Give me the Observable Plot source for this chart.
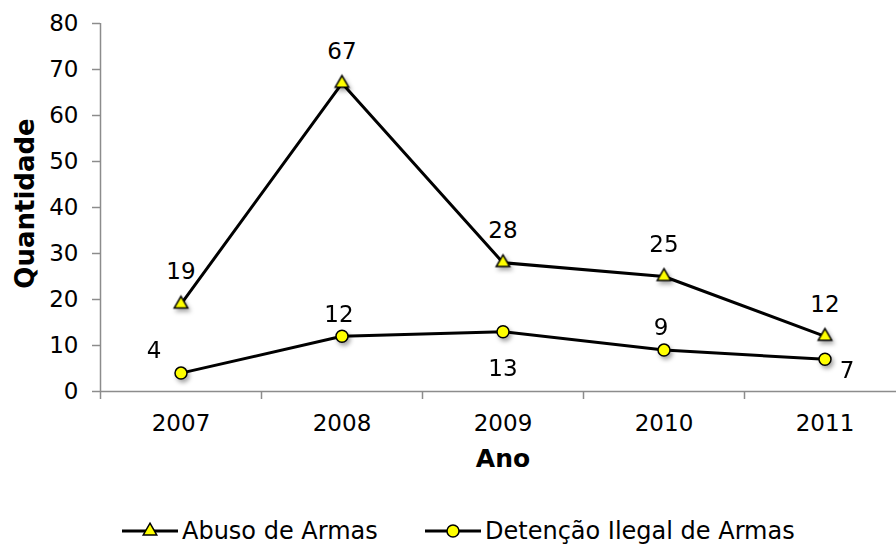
<!DOCTYPE html>
<html>
<head>
<meta charset="utf-8">
<script src="https://cdn.jsdelivr.net/npm/d3@7"></script>
<script src="https://cdn.jsdelivr.net/npm/@observablehq/plot@0.6"></script>
<style>
  html, body { margin: 0; padding: 0; background: #fff; overflow: hidden; }
  body { font-family: "DejaVu Sans", sans-serif; color: #000; }
  #wrap { width: 896px; height: 546px; position: relative; }
  #legend { position: relative; width: 896px; height: 26px; font-size: 24px; line-height: 26px; }
  #legend .item { position: absolute; top: 0; height: 26px; display: flex; align-items: center; white-space: nowrap; }
  #legend svg { display: block; margin-right: 4px; }
</style>
</head>
<body>
<div id="wrap">
  <div id="chart"></div>
  <div id="legend"></div>
</div>
<script>
// ---- data ----
const years = [2007, 2008, 2009, 2010, 2011];
const abuso = [19, 67, 28, 25, 12];
const detencao = [4, 12, 13, 9, 7];
const yTicks = [0, 10, 20, 30, 40, 50, 60, 70, 80];
const seriesNames = ["Abuso de Armas", "Detenção Ilegal de Armas"];
const yTitle = "Quantidade";
const xTitle = "Ano";
// where each value label sits relative to its point
const abusoLabelPos = ["above", "above", "above", "above", "above"];
const detencaoLabelPos = ["upperLeft", "above", "below", "above", "lowerRight"];

// ---- build tables ----
const abusoRows = years.map((year, i) => ({year, value: abuso[i], pos: abusoLabelPos[i]}));
const detRows = years.map((year, i) => ({year, value: detencao[i], pos: detencaoLabelPos[i]}));

const offsetsAbuso = {above: [0, -32]};
const offsetsDet = {above: [-3, -22], below: [0, 37], upperLeft: [-27, -22], lowerRight: [22, 11]};

function labelMarks(rows, offsets) {
  return Object.keys(offsets).map(p => Plot.text(rows.filter(d => d.pos === p), {
    x: "year", y: "value", text: d => String(d.value),
    dx: offsets[p][0], dy: offsets[p][1], fill: "#000", fontSize: 23
  }));
}

const x0 = years[0] - 0.5, x1 = years[years.length - 1] + 0.5;
const boundaries = d3.range(x0, x1 + 0.01, 1);
const axisGray = "#8c8c8c";

const plot = Plot.plot({
  width: 896,
  height: 518,
  marginTop: 23,
  marginLeft: 100,
  marginRight: -9,
  marginBottom: 127,
  x: {domain: [x0, x1]},
  y: {domain: [0, 80]},
  style: {fontFamily: "DejaVu Sans, sans-serif", fontSize: "23px", color: "#000", background: "#fff"},
  marks: [
    Plot.ruleX([x0], {stroke: axisGray, strokeWidth: 1.5}),
    Plot.ruleY([0], {stroke: axisGray, strokeWidth: 1.5}),
    Plot.axisY({ticks: yTicks, tickSize: 8, tickPadding: 14, stroke: axisGray, strokeWidth: 1.5, label: null, fill: "#000"}),
    Plot.axisX({ticks: boundaries, tickSize: 8, tickFormat: () => "", stroke: axisGray, strokeWidth: 1.5, label: null}),
    Plot.axisX({ticks: years, tickSize: 0, tickPadding: 23, tickFormat: d => String(d), label: null, fill: "#000"}),
    Plot.text([yTitle], {frameAnchor: "left", textAnchor: "middle", rotate: -90, dx: -75, dy: -4, fontWeight: "bold", fontSize: 26, fill: "#000"}),
    Plot.text([xTitle], {frameAnchor: "bottom", textAnchor: "middle", dy: 75, fontWeight: "bold", fontSize: 25, fill: "#000"}),
    Plot.line(abusoRows, {x: "year", y: "value", stroke: "#000", strokeWidth: 3}),
    Plot.line(detRows, {x: "year", y: "value", stroke: "#000", strokeWidth: 3}),
    Plot.dot(abusoRows, {x: "year", y: "value", symbol: "triangle", r: 5, fill: "#ffff00", stroke: "#000", strokeWidth: 1.5}),
    Plot.dot(detRows, {x: "year", y: "value", symbol: "circle", r: 6, fill: "#ffff00", stroke: "#000", strokeWidth: 1.5}),
    ...labelMarks(abusoRows, offsetsAbuso),
    ...labelMarks(detRows, offsetsDet)
  ]
});
document.getElementById("chart").appendChild(plot);
d3.select(plot).selectAll('g[aria-label="dot"]').style("filter", "drop-shadow(2px 3px 2px rgba(0,0,0,0.35))");

// ---- legend ----
const legend = d3.select("#legend");
const items = [
  {name: seriesNames[0], symbol: d3.symbolTriangle, size: Math.PI * 25, left: 122},
  {name: seriesNames[1], symbol: d3.symbolCircle, size: Math.PI * 36, left: 425}
];
for (const it of items) {
  const div = legend.append("div").attr("class", "item").style("left", it.left + "px");
  const s = div.append("svg").attr("width", 56).attr("height", 20);
  s.append("line").attr("x1", 0).attr("x2", 56).attr("y1", 10).attr("y2", 10).attr("stroke", "#000").attr("stroke-width", 3);
  s.append("path").attr("transform", "translate(28,10)").attr("d", d3.symbol(it.symbol, it.size)())
    .attr("fill", "#ffff00").attr("stroke", "#000").attr("stroke-width", 1.5);
  div.append("span").text(it.name);
}
</script>
</body>
</html>
